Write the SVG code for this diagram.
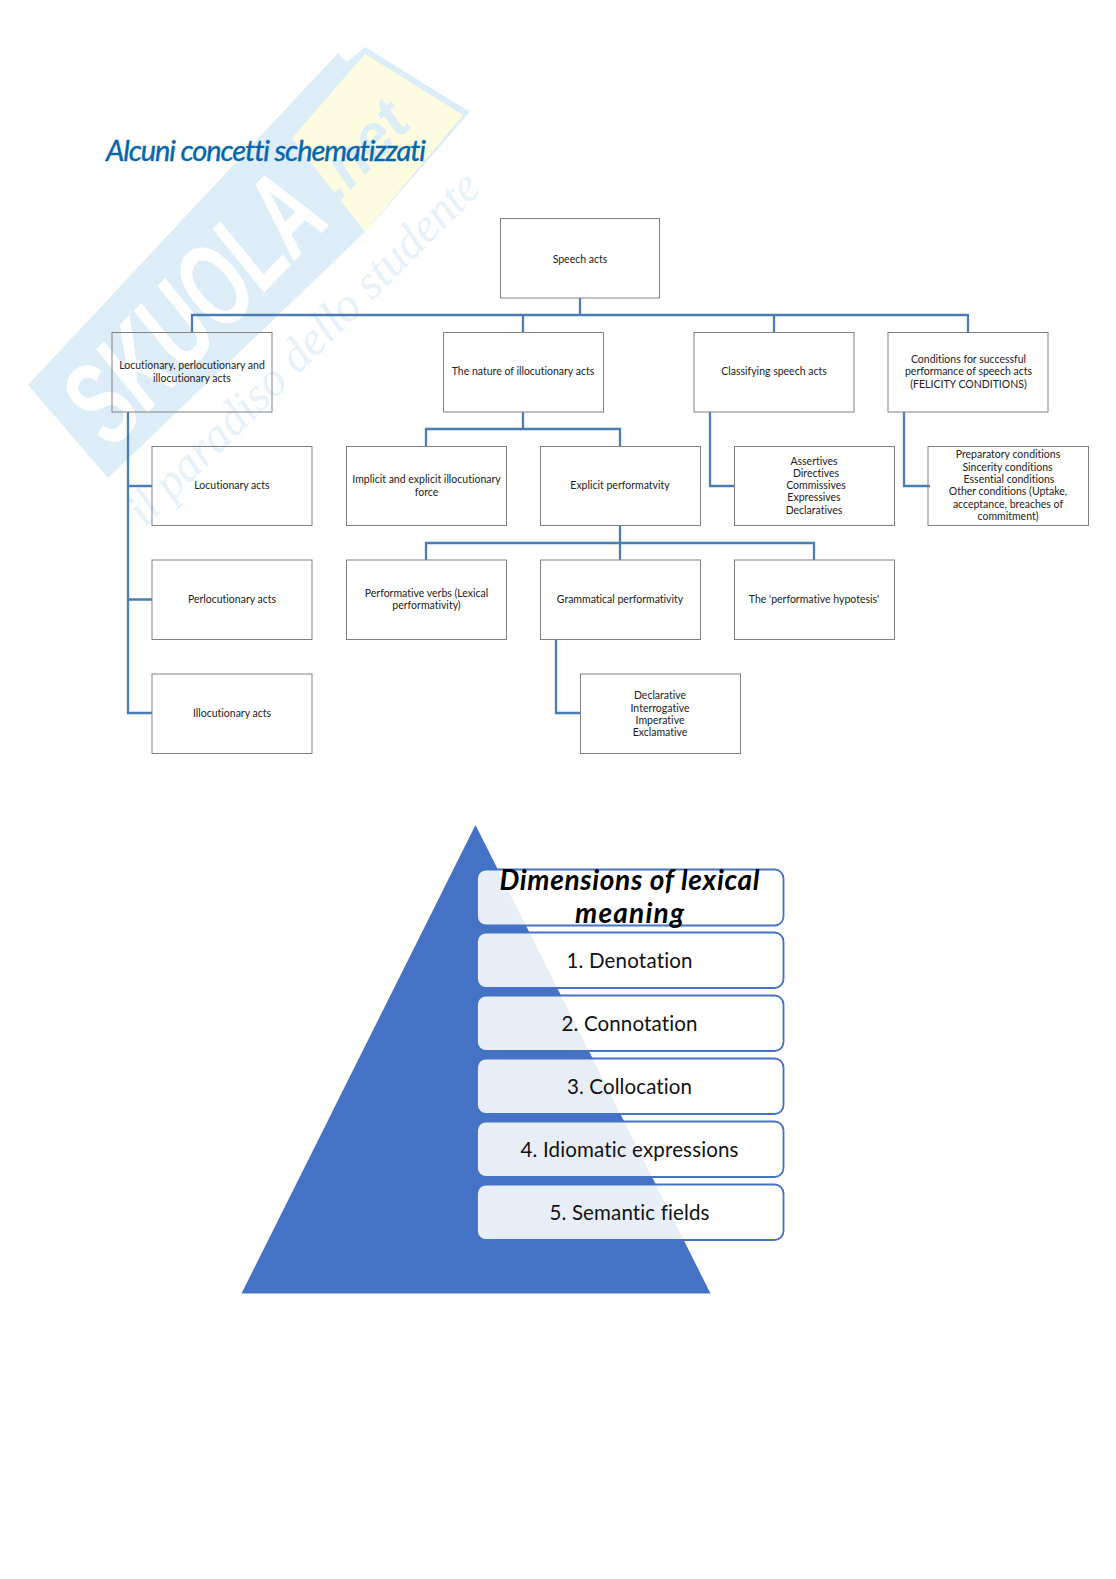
<svg xmlns="http://www.w3.org/2000/svg" width="1116" height="1579" viewBox="0 0 1116 1579">
<style>
text{font-variant-ligatures:none}
.b{fill:none;stroke:#808080;stroke-width:1}
.t{font-family:"Lato","Liberation Sans",sans-serif;font-size:10.500px;fill:#222;text-anchor:middle}
.c{fill:none;stroke:#4a7db3;stroke-width:2.300}
.r{fill:#fff;fill-opacity:.88;stroke:#4472c4;stroke-width:1.800}
.l{font-family:"Lato","Liberation Sans",sans-serif;font-size:20.500px;fill:#111;text-anchor:middle}
.h{font-family:"Lato","Liberation Sans",sans-serif;font-size:28px;font-weight:700;font-style:italic;fill:#000;text-anchor:middle}
</style>
<rect width="1116" height="1579" fill="#fff"/>
<g id="watermark">
<polygon points="28,385 338,53 347,62 365,47 470,112 365,232 108,478" fill="#dcedf7"/>
<polygon points="365,54 463,115 365,232 292,138" fill="#fefce0"/>
<text transform="translate(112,450) rotate(-46)" font-family="Liberation Sans, sans-serif" font-weight="700" font-style="italic" font-size="118" fill="#fff" textLength="318" lengthAdjust="spacingAndGlyphs">SKUOLA</text>
<text transform="translate(338,203) rotate(-46)" font-family="Liberation Sans, sans-serif" font-weight="700" font-style="italic" font-size="62" fill="#dcedf7" textLength="108" lengthAdjust="spacingAndGlyphs">.net</text>
<text transform="translate(145,528) rotate(-45)" font-family="Liberation Serif, serif" font-style="italic" font-size="48" fill="#e6f1f9" textLength="478">il paradiso dello studente</text>
</g>
<text id="title" x="106" y="161" font-family="Lato, Liberation Sans, sans-serif" font-style="italic" font-size="29px" fill="#0566ad" stroke="#0566ad" stroke-width=".4" textLength="320">Alcuni concetti schematizzati</text>
<g id="connectors">
<path class="c" d="M580 298V315M192 332V315H968V332M523 315V332M774 315V332"/>
<path class="c" d="M128 412V713H152M128 486H152M128 599.500H152"/>
<path class="c" d="M523 412V429M426 446V429H620V446"/>
<path class="c" d="M620 525V543M426 560V543H814V560M620 543V560"/>
<path class="c" d="M556 640V713H580"/>
<path class="c" d="M710 412V486H735"/>
<path class="c" d="M904 412V486H930"/>
</g>
<g id="n-speech"><rect class="b" x="500.500" y="218.500" width="159" height="79.500"/><text class="t" x="580" y="262.500">Speech acts</text></g>
<g id="n-loc-group"><rect class="b" x="112" y="332.500" width="160" height="79.500"/><text class="t"><tspan x="192" y="369">Locutionary, perlocutionary and</tspan><tspan x="192" y="382">illocutionary acts</tspan></text></g>
<g id="n-nature"><rect class="b" x="443.500" y="332.500" width="160" height="79.500"/><text class="t" x="523" y="375">The nature of illocutionary acts</text></g>
<g id="n-class"><rect class="b" x="694" y="332.500" width="160" height="79.500"/><text class="t" x="774" y="375">Classifying speech acts</text></g>
<g id="n-cond"><rect class="b" x="888" y="332.500" width="160" height="79.500"/><text class="t"><tspan x="968.500" y="363">Conditions for successful</tspan><tspan x="968.500" y="375">performance of speech acts</tspan><tspan x="968.500" y="387.500">(FELICITY CONDITIONS)</tspan></text></g>
<g id="n-locutionary"><rect class="b" x="152" y="446.500" width="160" height="79"/><text class="t" x="232" y="489">Locutionary acts</text></g>
<g id="n-implicit"><rect class="b" x="346.500" y="446.500" width="160" height="79"/><text class="t"><tspan x="426.500" y="483">Implicit and explicit illocutionary</tspan><tspan x="426.500" y="496">force</tspan></text></g>
<g id="n-explicit"><rect class="b" x="540.500" y="446.500" width="160" height="79"/><text class="t" x="620" y="489">Explicit performatvity</text></g>
<g id="n-assertives"><rect class="b" x="734.500" y="446.500" width="160" height="79"/><text class="t"><tspan x="814" y="465">Assertives</tspan><tspan x="816" y="477">Directives</tspan><tspan x="816" y="489">Commissives</tspan><tspan x="814" y="501">Expressives</tspan><tspan x="814" y="514">Declaratives</tspan></text></g>
<g id="n-prep"><rect class="b" x="928" y="446.500" width="160.500" height="79"/><text class="t"><tspan x="1008" y="458">Preparatory conditions</tspan><tspan x="1007.500" y="471">Sincerity conditions</tspan><tspan x="1009" y="483">Essential conditions</tspan><tspan x="1008" y="495">Other conditions (Uptake,</tspan><tspan x="1008" y="508">acceptance, breaches of</tspan><tspan x="1008" y="520">commitment)</tspan></text></g>
<g id="n-perloc"><rect class="b" x="152" y="560" width="160" height="79.500"/><text class="t" x="232" y="603">Perlocutionary acts</text></g>
<g id="n-perf-verbs"><rect class="b" x="346.500" y="560" width="160" height="79.500"/><text class="t"><tspan x="426.500" y="597">Performative verbs (Lexical</tspan><tspan x="426.500" y="609">performativity)</tspan></text></g>
<g id="n-gram"><rect class="b" x="540.500" y="560" width="160" height="79.500"/><text class="t" x="620" y="603">Grammatical performativity</text></g>
<g id="n-hypo"><rect class="b" x="734.500" y="560" width="160" height="79.500"/><text class="t" x="814" y="603">The 'performative hypotesis'</text></g>
<g id="n-illoc"><rect class="b" x="152" y="674" width="160" height="79.500"/><text class="t" x="232" y="717">Illocutionary acts</text></g>
<g id="n-decl"><rect class="b" x="580.500" y="674" width="160" height="79.500"/><text class="t"><tspan x="660" y="699">Declarative</tspan><tspan x="660" y="711.500">Interrogative</tspan><tspan x="660" y="724">Imperative</tspan><tspan x="660" y="736">Exclamative</tspan></text></g>
<g id="pyramid"><polygon points="475.500,825 710.500,1293.500 241.500,1293.500" fill="#4472c4"/></g>
<g id="n-dim"><rect class="r" x="477" y="869.500" width="306.500" height="56" rx="9"/><text class="h" x="629.500" y="890" textLength="260">Dimensions of lexical</text><text class="h" x="629.500" y="923" textLength="109">meaning</text></g>
<g id="n-1"><rect class="r" x="477" y="932.500" width="306.500" height="55.500" rx="9"/><text class="l" x="629.500" y="968" textLength="126">1. Denotation</text></g>
<g id="n-2"><rect class="r" x="477" y="995.500" width="306.500" height="55.500" rx="9"/><text class="l" x="629.500" y="1031" textLength="136">2. Connotation</text></g>
<g id="n-3"><rect class="r" x="477" y="1058.500" width="306.500" height="55.500" rx="9"/><text class="l" x="629.500" y="1094" textLength="125">3. Collocation</text></g>
<g id="n-4"><rect class="r" x="477" y="1121.500" width="306.500" height="55.500" rx="9"/><text class="l" x="629.500" y="1157" textLength="218">4. Idiomatic expressions</text></g>
<g id="n-5"><rect class="r" x="477" y="1184.500" width="306.500" height="55.500" rx="9"/><text class="l" x="629.500" y="1220" textLength="160">5. Semantic fields</text></g>
</svg>
